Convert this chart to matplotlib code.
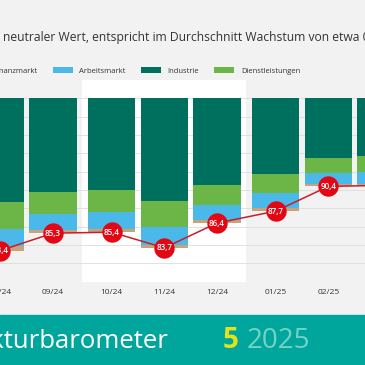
import numpy as np
import matplotlib
matplotlib.use("Agg")
import matplotlib.pyplot as plt
from matplotlib.patches import Rectangle

plt.rcParams['font.family'] = ['Open Sans', 'DejaVu Sans']

# Konjunkturbarometer, Beitraege der Teilindikatoren (Abstand zu 100)
months = ['08/24', '09/24', '10/24', '11/24', '12/24', '01/25', '02/25', '03/25']
quarter = [0, 0, 1, 1, 1, 2, 2, 2]
index_vals = [83.4, 85.3, 85.4, 83.7, 86.4, 87.7, 90.4, 90.5]
industrie = [11.35, 10.2, 9.95, 11.15, 9.4, 8.3, 6.5, 6.3]
dienstleistungen = [2.85, 2.4, 2.45, 2.85, 2.2, 2.05, 1.6, 1.7]
arbeitsmarkt = [1.9, 1.8, 1.8, 2.0, 1.65, 1.65, 1.25, 1.3]
finanzmarkt = [0.5, 0.3, 0.4, 0.3, 0.35, 0.3, 0.25, 0.2]

col_ind = '#00705e'
col_dl = '#6cb547'
col_am = '#4bb8ea'
col_fm = '#c9a27a'
bg = '#f2f2f2'

x = np.arange(len(months)) + np.array(quarter) * 0.114
xlim = (-0.004, -0.004 + 365 / 52.7)

fig = plt.figure(figsize=(3.65, 3.65), dpi=100)
fig.patch.set_facecolor(bg)
ax = fig.add_axes([0, 0.228, 1, 0.553])
ax.set_facecolor(bg)

ax.set_yticks(range(82, 101, 2))
ax.yaxis.grid(True, color='#dcdcdc', lw=0.6)
ax.set_axisbelow(True)
for s in ax.spines.values():
    s.set_visible(False)
ax.tick_params(left=False, labelleft=False, bottom=False, pad=2)
ax.set_xticks(x, months, fontsize=6, color='#333333')
ax.set_xlim(*xlim)
ax.set_ylim(80, 102)

# mittleres Quartal weiss hinterlegt
ax.axvspan((x[1] + x[2]) / 2, (x[4] + x[5]) / 2, color='white', zorder=0, lw=0)

top = np.full(len(months), 100.0)
handles = {}
for name, vals, c in [('Industrie', industrie, col_ind),
                      ('Dienstleistungen', dienstleistungen, col_dl),
                      ('Arbeitsmarkt', arbeitsmarkt, col_am),
                      ('Finanzmarkt', finanzmarkt, col_fm)]:
    vals = np.array(vals)
    handles[name] = ax.bar(x, vals, bottom=top - vals, width=0.9, color=c, lw=0, zorder=2)
    top = top - vals

ax.plot(x, index_vals, color='#c81e2c', lw=1.1, zorder=3)
ax.scatter(x, index_vals, s=215, color='#e30613', zorder=4, lw=0)
for xi, v in zip(x, index_vals):
    ax.text(xi, v, f'{v:.1f}'.replace('.', ','), color='white', fontsize=5.8,
            fontweight='semibold', ha='center', va='center', zorder=5)
ax.set_xlim(*xlim)

order = ['Finanzmarkt', 'Arbeitsmarkt', 'Industrie', 'Dienstleistungen']
fig.legend([handles[n] for n in order], order, loc='center left',
           bbox_to_anchor=(-33 / 365, 1 - 71 / 365), ncol=4, frameon=False,
           fontsize=5.5, handlelength=2.6, handleheight=0.8, handletextpad=0.9,
           columnspacing=1.95, borderpad=0, borderaxespad=0, labelcolor='#333333')

fig.text(3 / 365, 1 - 37 / 365,
         'neutraler Wert, entspricht im Durchschnitt Wachstum von etwa 0,3 Prozent',
         fontsize=8.75, color='#333333', va='center', ha='left')

# Banner unten
fig.patches.append(Rectangle((0, 0), 1, 50 / 365, transform=fig.transFigure,
                             color='#00a69c', zorder=0))
fig.text(168 / 365, 1 - 341 / 365, 'Konjunkturbarometer', color='white',
         fontsize=18.5, ha='right', va='center')
fig.text(223 / 365, 1 - 341 / 365, '5', color='#e4e21b', fontsize=20,
         fontweight='bold', ha='left', va='center')
fig.text(247 / 365, 1 - 341 / 365, '2025', color='#74d2c8', fontsize=20,
         ha='left', va='center')

fig.savefig('out.png', dpi=100, facecolor=bg)
